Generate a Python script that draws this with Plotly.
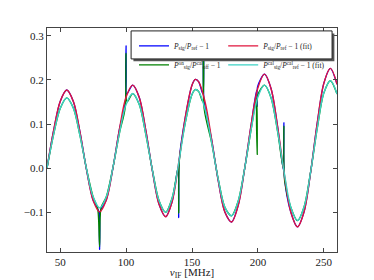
import plotly.graph_objects as go

# ---- data ----
freq_fit = [40, 45, 50, 55, 60, 65, 70, 75, 80, 85, 90, 95, 100, 105, 110, 115, 120, 125, 130,
            135, 140, 145, 150, 152.5, 155, 160, 165, 170, 175, 180, 185, 190, 195, 200, 205,
            210, 215, 220, 225, 230, 235, 240, 245, 250, 255, 260]
ratio_fit = [0.000, 0.085, 0.151, 0.177, 0.151, 0.082, -0.004, -0.073, -0.099, -0.072, 0.000,
             0.089, 0.161, 0.188, 0.160, 0.085, -0.007, -0.082, -0.110, -0.075, 0.014, 0.117,
             0.188, 0.201, 0.196, 0.149, 0.063, -0.030, -0.100, -0.122, -0.085, 0.000, 0.101,
             0.182, 0.213, 0.180, 0.093, -0.013, -0.100, -0.133, -0.099, -0.009, 0.102, 0.192,
             0.226, 0.190]
cal_fit = [0.000, 0.076, 0.135, 0.159, 0.136, 0.074, -0.002, -0.065, -0.090, -0.065, 0.001,
           0.080, 0.144, 0.169, 0.144, 0.076, -0.005, -0.074, -0.100, -0.067, 0.013, 0.104,
           0.167, 0.178, 0.174, 0.132, 0.056, -0.026, -0.089, -0.108, -0.075, 0.000, 0.090,
           0.161, 0.188, 0.159, 0.082, -0.011, -0.089, -0.119, -0.088, -0.008, 0.090, 0.170,
           0.198, 0.168]

freq_meas = [40, 45, 50, 55, 60, 65, 70, 75, 79.4, 79.9, 80.4, 85, 90, 95, 99.5, 100.0, 100.5,
             105, 110, 115, 120, 125, 130, 135, 139.6, 139.9, 140.3, 145, 150, 152.5, 155,
             158.3, 158.7, 159.1, 165, 170, 175, 180, 185, 190, 195, 199.0, 199.4, 199.8, 205,
             210, 215, 219.3, 219.7, 220.1, 225, 230, 235, 240, 245, 250, 255, 260]
ratio_meas = [0.000, 0.085, 0.151, 0.177, 0.151, 0.082, -0.004, -0.073, -0.099, -0.184, -0.098,
              -0.072, 0.000, 0.089, 0.150, 0.277, 0.168, 0.188, 0.160, 0.085, -0.007, -0.082,
              -0.110, -0.075, 0.004, -0.112, 0.018, 0.117, 0.188, 0.201, 0.196, 0.168, 0.300,
              0.155, 0.063, -0.030, -0.100, -0.122, -0.085, 0.000, 0.101, 0.176, 0.140, 0.185,
              0.213, 0.180, 0.093, -0.004, 0.103, -0.020, -0.100, -0.133, -0.099, -0.009, 0.102,
              0.192, 0.226, 0.190]

freq_cal = [40, 45, 50, 55, 60, 65, 70, 75, 78.4, 79.9, 81.0, 85, 90, 95, 99.2, 99.9, 100.8,
            105, 110, 115, 120, 125, 130, 135, 139.5, 139.9, 140.5, 145, 150, 152.5, 155,
            158.2, 158.7, 159.2, 165, 170, 175, 180, 185, 190, 195, 199.0, 199.5, 199.9, 205,
            210, 215, 219.2, 219.7, 220.3, 225, 230, 235, 240, 245, 250, 255, 260]
cal_meas = [0.000, 0.076, 0.135, 0.159, 0.136, 0.074, -0.002, -0.065, -0.091, -0.178, -0.090,
            -0.065, 0.001, 0.080, 0.135, 0.260, 0.150, 0.169, 0.144, 0.076, -0.005, -0.074,
            -0.100, -0.067, 0.000, -0.102, 0.020, 0.104, 0.167, 0.178, 0.174, 0.150, 0.290,
            0.135, 0.056, -0.026, -0.089, -0.108, -0.075, 0.000, 0.090, 0.158, 0.031, 0.165,
            0.188, 0.159, 0.082, 0.000, 0.095, -0.030, -0.089, -0.119, -0.088, -0.008, 0.090,
            0.170, 0.198, 0.168]

x_ticks = [50, 100, 150, 200, 250]
y_ticks = [-0.1, 0.0, 0.1, 0.2, 0.3]

lab_blue = "<i>P</i><sub>sig</sub>/<i>P</i><sub>ref</sub> − 1"
lab_green = "<i>P</i><sup>on</sup><sub>sig</sub>/<i>P</i><sup>cal</sup><sub>off</sub> − 1"
lab_red = "<i>P</i><sub>sig</sub>/<i>P</i><sub>ref</sub> − 1 (fit)"
lab_cyan = "<i>P</i><sup>cal</sup><sub>sig</sub>/<i>P</i><sup>cal</sup><sub>ref</sub> − 1 (fit)"

BLUE = "#0000ff"
GREEN = "#008000"
RED = "#e0143c"
CYAN = "#3cd2c4"

fig = go.Figure()
fig.add_trace(go.Scatter(x=freq_meas, y=ratio_meas, mode="lines", name=lab_blue,
                         line=dict(color=BLUE, width=1.3, shape="spline", smoothing=0.8),
                         legend="legend", legendrank=1))
fig.add_trace(go.Scatter(x=freq_cal, y=cal_meas, mode="lines", name=lab_green,
                         line=dict(color=GREEN, width=1.3, shape="spline", smoothing=0.8),
                         legend="legend", legendrank=2))
fig.add_trace(go.Scatter(x=freq_fit, y=ratio_fit, mode="lines", name=lab_red,
                         line=dict(color=RED, width=1.4, shape="spline"),
                         legend="legend2", legendrank=1))
fig.add_trace(go.Scatter(x=freq_fit, y=cal_fit, mode="lines", name=lab_cyan,
                         line=dict(color=CYAN, width=1.4, shape="spline"),
                         legend="legend2", legendrank=2))

axis_common = dict(showline=True, linecolor="#444", linewidth=1, mirror="ticks",
                   ticks="inside", ticklen=4, tickcolor="#444", tickwidth=1,
                   showgrid=False, zeroline=False,
                   tickfont=dict(family="Liberation Serif", size=11, color="#222"))

fig.update_xaxes(range=[40, 260], tickvals=x_ticks, ticktext=[str(v) for v in x_ticks],
                 title=dict(text="<i>ν</i><sub>IF</sub> [MHz]", standoff=2,
                            font=dict(family="Liberation Serif", size=11, color="#222")),
                 automargin=False, **axis_common)
fig.update_yaxes(range=[-0.19, 0.3175], tickvals=y_ticks,
                 ticktext=["−0.1", "0.0", "0.1", "0.2", "0.3"],
                 automargin=False, **axis_common)

leg_font = dict(family="Liberation Serif", size=7.5, color="#222")
fig.update_layout(
    width=374, height=280,
    margin=dict(l=47, r=37, t=28, b=28),
    paper_bgcolor="white", plot_bgcolor="white",
    showlegend=True,
    legend=dict(orientation="v", x=0.30, xanchor="left", y=0.985, yanchor="top",
                bgcolor="rgba(0,0,0,0)", borderwidth=0, tracegroupgap=0,
                itemwidth=30, font=leg_font),
    legend2=dict(orientation="v", x=0.98, xanchor="right", y=0.985, yanchor="top",
                 bgcolor="rgba(0,0,0,0)", borderwidth=0, tracegroupgap=0,
                 itemwidth=30, font=leg_font),
    shapes=[
        dict(type="rect", xref="paper", yref="paper", x0=0.298, x1=0.991, y0=0.852, y1=0.976,
             fillcolor="#555", line=dict(width=0), layer="above"),
        dict(type="rect", xref="paper", yref="paper", x0=0.29, x1=0.983, y0=0.862, y1=0.987,
             fillcolor="white", line=dict(color="#222", width=1), layer="above"),
    ],
)

fig.write_html("out.html", config={"displayModeBar": False},
               post_script="document.body.style.margin='0px';")
